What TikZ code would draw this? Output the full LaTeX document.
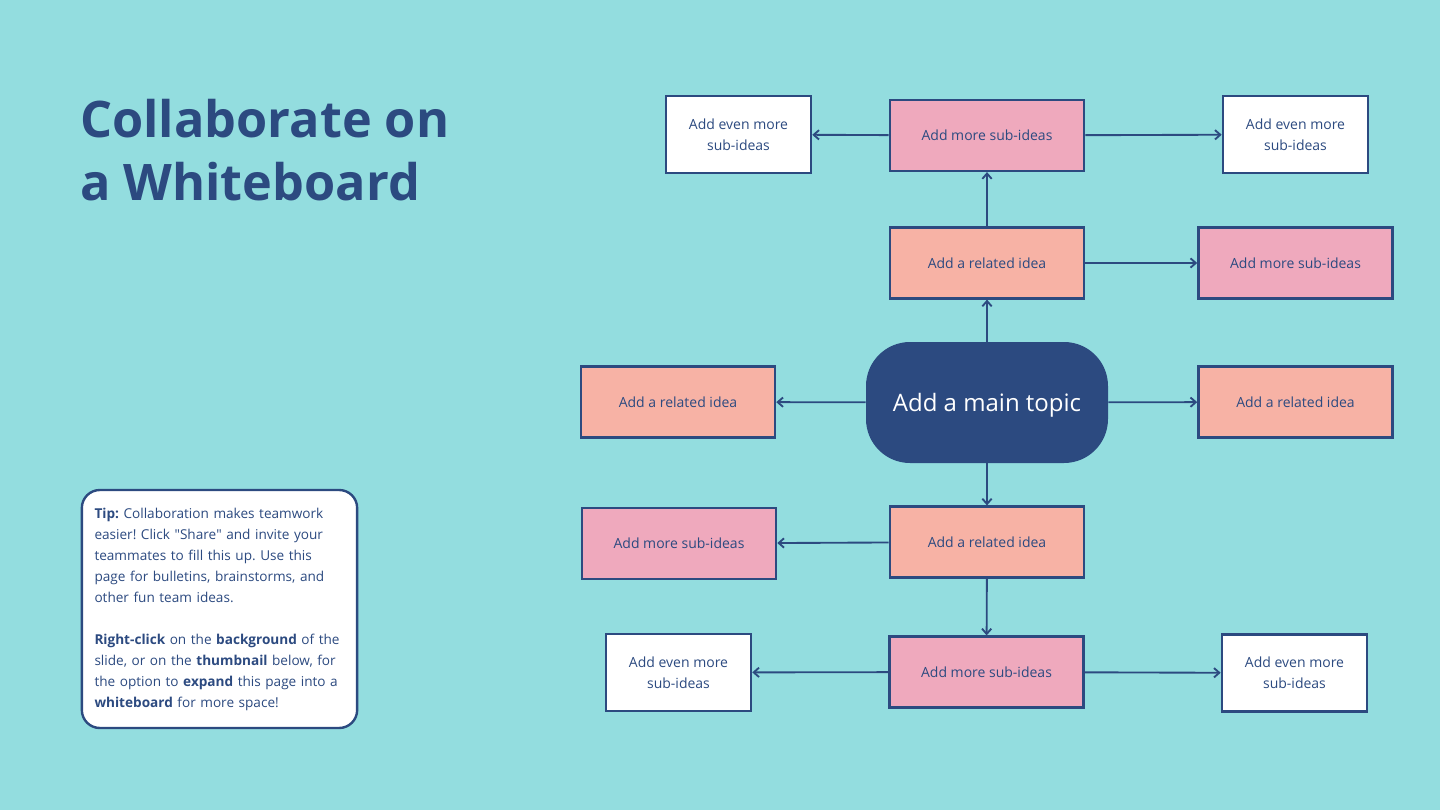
\documentclass[tikz,border=0pt]{standalone}
\usepackage{fontspec}
\setmainfont{Open Sans}
% same family without the TeX quote ligatures, for straight double quotes
\newfontfamily\plainfont{Open Sans}
\usetikzlibrary{arrows.meta}
\definecolor{bg}{HTML}{93DDDF}
\definecolor{navy}{HTML}{2C4A80}
\definecolor{salmon}{HTML}{F7B2A5}
\definecolor{pinkbox}{HTML}{EFA9BD}
\newcommand{\dq}{{\plainfont\symbol{"22}}}
\frenchspacing
\begin{document}
\begin{tikzpicture}[x=0.75pt,y=-0.75pt,
  box/.style={draw=navy,line width=1.9pt,text=navy,align=center,inner sep=0pt,
    font=\fontsize{10.5}{15.5}\selectfont},
  related/.style={box,fill=salmon,minimum width=145.5pt,minimum height=53pt},
  subidea/.style={box,fill=pinkbox,minimum width=145.5pt,minimum height=53pt},
  evenmore/.style={box,fill=white,minimum width=108.75pt,minimum height=57.75pt},
  topic/.style={fill=navy,text=white,rounded corners=33pt,minimum width=181.5pt,
    minimum height=90.75pt,text depth=0pt,font=\fontsize{18}{22}\selectfont},
  conn/.style={draw=navy,line width=1.4pt,-{Straight Barb[length=4pt,width=7pt,line width=1.4pt]}},
]
% background and page frame
\fill[bg] (0,0) rectangle (1440,810);
\useasboundingbox (0,0) rectangle (1440,810);

% title
\node[anchor=base west,align=left,text=navy,inner sep=0pt,
  font=\fontsize{37.8}{47.25}\bfseries\selectfont] (title) at (80,200)
  {Collaborate on\\a Whiteboard};

% tip card
\node[draw=navy,line width=1.8pt,fill=white,rounded corners=13.5pt,
  minimum width=206pt,minimum height=178.5pt,text=navy,align=left,
  text width=187.5pt,inner xsep=9.5pt,
  font=\fontsize{10.2}{15.75}\selectfont] (tip) at (219.5,609)
  {\textbf{Tip:} Collaboration makes teamwork\\
   easier! Click \dq Share\dq{} and invite your\\
   teammates to fill this up. Use this\\
   page for bulletins, brainstorms, and\\
   other fun team ideas.\\[15.75pt]
   \textbf{Right-click} on the \textbf{background} of the\\
   slide, or on the \textbf{thumbnail} below, for\\
   the option to \textbf{expand} this page into a\\
   \textbf{whiteboard} for more space!};

% mind map
\node[topic] (main) at (987,402.5) {Add a main topic};

\node[related] (rtop) at (987,263) {Add a related idea};
\node[related] (rleft) at (678,402) {Add a related idea};
\node[related] (rright) at (1295.5,402) {Add a related idea};
\node[related] (rbot) at (987,542) {Add a related idea};

\node[subidea] (stop) at (987,135.5) {Add more sub-ideas};
\node[subidea] (sright) at (1295.5,263) {Add more sub-ideas};
\node[subidea] (sleft) at (679,543.5) {Add more sub-ideas};
\node[subidea] (sbot) at (986.5,672) {Add more sub-ideas};

\node[evenmore] (etl) at (738.5,134.5) {Add even more\\sub-ideas};
\node[evenmore] (etr) at (1295.5,134.5) {Add even more\\sub-ideas};
\node[evenmore] (ebl) at (678.5,672.5) {Add even more\\sub-ideas};
\node[evenmore] (ebr) at (1294.5,673) {Add even more\\sub-ideas};

\draw[conn] (main) -- (rtop);
\draw[conn] (main) -- (rleft);
\draw[conn] (main) -- (rright);
\draw[conn] (main) -- (rbot);
\draw[conn] (rtop) -- (stop);
\draw[conn] (rtop) -- (sright);
\draw[conn] (stop) -- (etl);
\draw[conn] (stop) -- (etr);
\draw[conn] (rbot) -- (sleft);
\draw[conn] (rbot) -- (sbot);
\draw[conn] (sbot) -- (ebl);
\draw[conn] (sbot) -- (ebr);
\end{tikzpicture}
\end{document}
